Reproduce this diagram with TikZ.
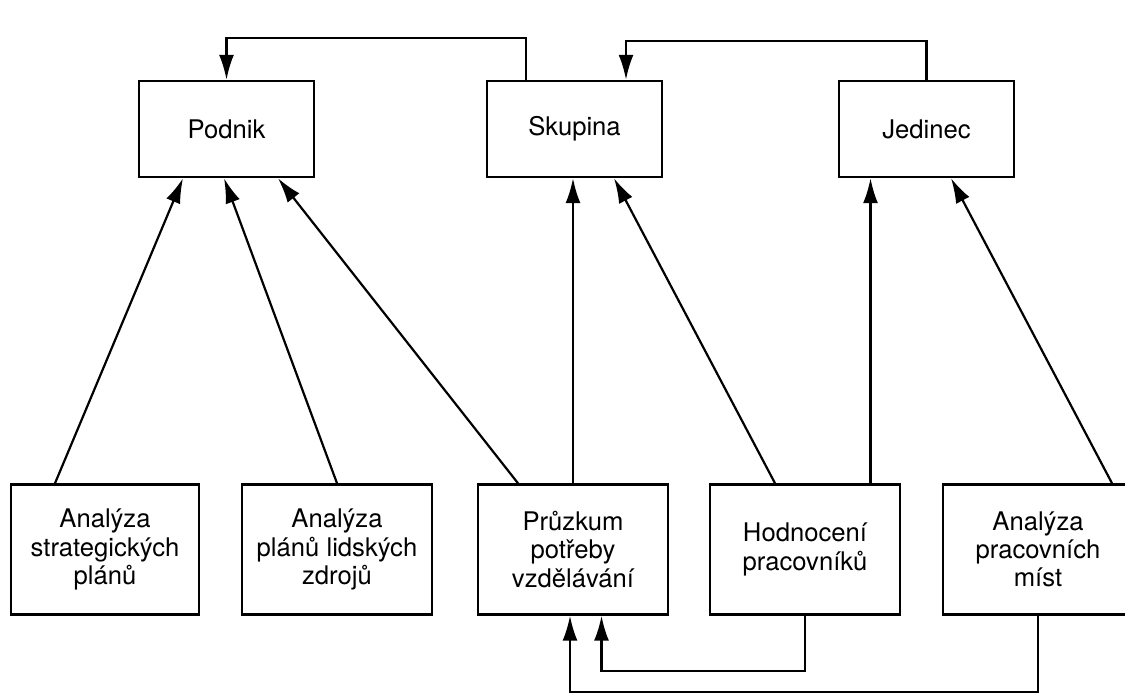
\documentclass[tikz,border=0pt]{standalone}
\usepackage{fontspec}
\setmainfont{TeX Gyre Heros}
\usetikzlibrary{arrows.meta}
\tikzset{
  box/.style={draw, line width=1.4pt, align=center, inner sep=2pt,
    font=\fontsize{14.6}{16.1}\selectfont},
  topbox/.style={box, minimum width=3.5cm, minimum height=1.92cm},
  lowbox/.style={box, minimum width=3.8cm, minimum height=2.6cm},
  arr/.style={line width=1.25pt, -{Latex[length=5mm,width=3mm]}}
}
\begin{document}
\begin{tikzpicture}
  \useasboundingbox (0,0) rectangle (22.5,13.86);
  \node[topbox] (podnik) at (4.53,11.28) {Podnik};
  \node[topbox] (skupina) at (11.49,11.28) {Skupina};
  \node[topbox] (jedinec) at (18.53,11.28) {Jedinec};
  \node[lowbox, minimum width=3.76cm] (strat) at (2.1,2.87)
    {Analýza\\strategických\\plánů};
  \node[lowbox] (zdroje) at (6.74,2.87) {Analýza\\plánů lidských\\zdrojů};
  \node[lowbox] (pruzkum) at (11.46,2.87) {Průzkum\\potřeby\\vzdělávání};
  \node[lowbox] (hodnoceni) at (16.1,2.87) {Hodnocení\\pracovníků};
  \node[lowbox] (mista) at (20.76,2.87) {Analýza\\pracovních\\míst};
  \draw[arr] ([xshift=-1cm]strat.north) -- ([xshift=-0.87cm]podnik.south);
  \draw[arr] (zdroje.north) -- ([xshift=-0.05cm]podnik.south);
  \draw[arr] ([xshift=-1.1cm]pruzkum.north) -- ([xshift=1.03cm]podnik.south);
  \draw[arr] (pruzkum.north) -- (pruzkum.north |- skupina.south);
  \draw[arr] ([xshift=-0.6cm]hodnoceni.north) -- ([xshift=0.79cm]skupina.south);
  \draw[arr] ([xshift=1.31cm]hodnoceni.north)
    -- ([xshift=1.31cm]hodnoceni.north |- jedinec.south);
  \draw[arr] ([xshift=1.48cm]mista.north) -- ([xshift=0.49cm]jedinec.south);
  \draw[arr] ([xshift=-0.97cm]skupina.north) -- ++(0,0.84) -| (podnik.north);
  \draw[arr] (jedinec.north) -- ++(0,0.78) -| ([xshift=1.03cm]skupina.north);
  \draw[arr] (hodnoceni.south) -- ++(0,-1.1) -| ([xshift=0.57cm]pruzkum.south);
  \draw[arr] (mista.south) -- ++(0,-1.53) -| ([xshift=-0.06cm]pruzkum.south);
\end{tikzpicture}
\end{document}
